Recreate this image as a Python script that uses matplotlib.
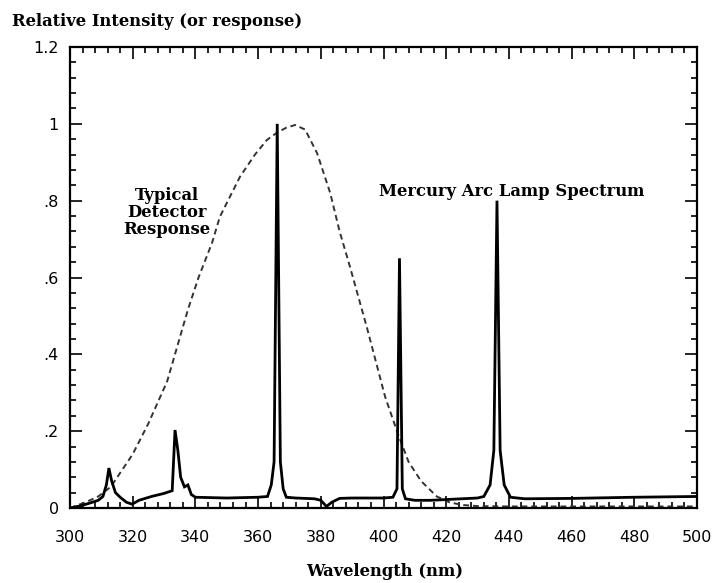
import matplotlib
matplotlib.use("Agg")
import matplotlib.pyplot as plt
import numpy as np
from matplotlib.ticker import MultipleLocator, FixedLocator

# Mercury arc lamp spectrum (wavelength nm, relative intensity)
hg_wl = [300, 303, 306, 309, 310.5, 311.6, 312.4, 313.3, 314.5, 316, 318, 319.8,
         322, 326, 330, 332.6, 333.5, 334.4, 335.3, 336.5, 337.6, 338.7, 340,
         345, 350, 355, 360, 363.0, 364.2, 365.1, 366.1, 367.1, 368.0, 369.0,
         372, 378, 380, 381.8, 383.5, 386, 390, 395, 400, 403, 404.3, 405.1,
         406.0, 407.0, 410, 415, 420, 425, 430, 432, 434, 435.2, 436.2, 437.2,
         438.5, 440.5, 445, 460, 480, 500]
hg_int = [0.0, 0.005, 0.012, 0.02, 0.03, 0.06, 0.104, 0.07, 0.04, 0.028, 0.015, 0.01,
          0.02, 0.03, 0.038, 0.045, 0.203, 0.15, 0.08, 0.055, 0.06, 0.035, 0.028,
          0.027, 0.026, 0.027, 0.028, 0.03, 0.06, 0.12, 1.0, 0.12, 0.05, 0.028,
          0.026, 0.024, 0.02, 0.004, 0.015, 0.025, 0.026, 0.026, 0.026, 0.028, 0.05, 0.65,
          0.05, 0.024, 0.02, 0.02, 0.022, 0.024, 0.026, 0.03, 0.06, 0.15, 0.80, 0.15,
          0.06, 0.028, 0.024, 0.025, 0.028, 0.03]

# Typical detector response
det_wl = [300, 305, 309, 313, 320, 325, 331, 337.6, 341, 345.3, 347.8, 354.2,
          359, 362.8, 366, 369, 371.8, 375, 378.8, 383, 386, 389.3, 394.7, 400.5,
          404.3, 408, 412, 417, 421, 425, 430, 440, 460, 480, 500]
det_int = [0.0, 0.015, 0.03, 0.055, 0.14, 0.22, 0.33, 0.516, 0.6, 0.69, 0.758, 0.862,
           0.92, 0.958, 0.977, 0.99, 0.997, 0.985, 0.924, 0.82, 0.72, 0.628, 0.47, 0.29,
           0.2, 0.12, 0.07, 0.03, 0.015, 0.008, 0.005, 0.004, 0.004, 0.004, 0.004]

xticks = [300, 320, 340, 360, 380, 400, 420, 440, 460, 480, 500]
yticks = [0, 0.2, 0.4, 0.6, 0.8, 1.0, 1.2]
ytick_labels = ["0", ".2", ".4", ".6", ".8", "1", "1.2"]

W, H = 713, 583
fig = plt.figure(figsize=(W / 100, H / 100), dpi=100)
ax = fig.add_axes([70 / W, 1 - 508 / H, (697 - 70) / W, (508 - 47) / H])

ax.plot(det_wl, det_int, color="#333333", lw=1.4, dashes=(3.0, 2.0))
ax.plot(hg_wl, hg_int, color="black", lw=2.0, solid_joinstyle="miter")

ax.set_xlim(300, 500)
ax.set_ylim(0, 1.2)
ax.xaxis.set_major_locator(FixedLocator(xticks))
ax.xaxis.set_minor_locator(MultipleLocator(4))
ax.yaxis.set_major_locator(FixedLocator(yticks))
ax.yaxis.set_minor_locator(MultipleLocator(0.04))
ax.set_yticklabels(ytick_labels)

ax.tick_params(which="both", direction="in", top=True, right=True, width=1.2)
ax.tick_params(which="major", length=8.5)
ax.tick_params(which="minor", length=4.5)
ax.tick_params(axis="x", which="major", pad=16, labelsize=11.5)
ax.tick_params(axis="y", which="major", pad=8, labelsize=11.5)
for lbl in ax.get_xticklabels() + ax.get_yticklabels():
    lbl.set_fontfamily("DejaVu Sans")
for s in ax.spines.values():
    s.set_linewidth(1.6)

serif = "DejaVu Serif"
fs = 11.8
fig.text(12 / W, 1 - 22 / H, "Relative Intensity (or response)", ha="left", va="center",
         fontsize=fs, fontweight="bold", family=serif)
fig.text(385 / W, 1 - 572 / H, "Wavelength (nm)", ha="center", va="center",
         fontsize=fs, fontweight="bold", family=serif)

ax.text(331.0, 0.768, "Typical\nDetector\nResponse", ha="center", va="center",
        fontsize=fs, fontweight="bold", family=serif, linespacing=1.0)
ax.text(441, 0.823, "Mercury Arc Lamp Spectrum", ha="center", va="center",
        fontsize=fs, fontweight="bold", family=serif)

fig.savefig("out.png", dpi=100)
